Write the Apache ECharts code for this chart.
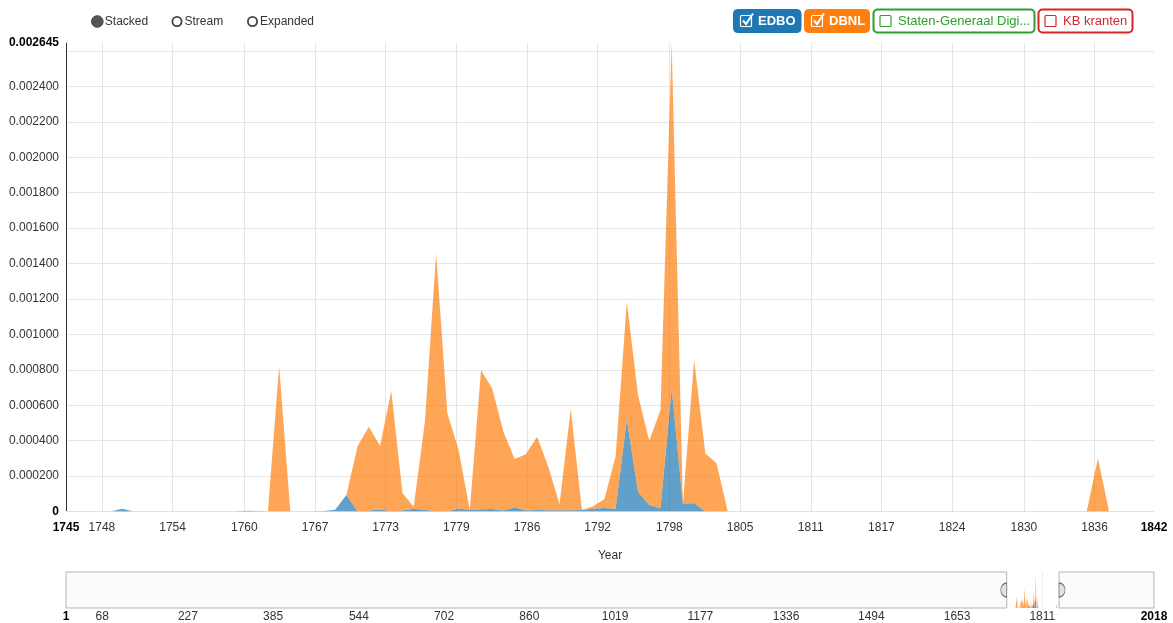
<!DOCTYPE html>
<html>
<head>
<meta charset="utf-8">
<title>EDBO / DBNL</title>
<script src="https://cdn.jsdelivr.net/npm/echarts@6/dist/echarts.min.js"></script>
<style>
  html, body { margin: 0; padding: 0; background: #fff; }
  #chart { width: 1173px; height: 623px; }
</style>
</head>
<body>
<div id="chart"></div>
<script>
const firstYear = 1745
const lastYear = 1842

// relative frequency per year, 1745 .. 1842 (ten years per row)
const edbo = [
  0, 0, 0, 0, 0, 0.000015, 0, 0, 0, 0,
  0, 0, 0, 0, 0, 0, 0.000004, 0.000003, 0, 0,
  0, 0, 0, 0.000003, 0.00001, 0.000093, 0, 0.000004, 0.000012, 0.000002,
  0.000006, 0.000015, 0.000008, 0.000003, 0, 0.000017, 0.000008, 0.000012, 0.000014, 0.000006,
  0.000022, 0.000006, 0.000008, 0.000007, 0.000007, 0.000007, 0.000008, 0.000015, 0.00002, 0.000015,
  0.00052, 0.000112, 0.000037, 0.000018, 0.000695, 0.000045, 0.000047, 0, 0, 0,
  0, 0, 0, 0, 0, 0, 0, 0, 0, 0,
  0, 0, 0, 0, 0, 0, 0, 0, 0, 0,
  0, 0, 0, 0, 0, 0, 0, 0, 0, 0,
  0, 0, 0, 0, 0, 0, 0, 0
]
const dbnl = [
  0, 0, 0, 0, 0, 0, 0, 0, 0, 0,
  0, 0, 0, 0, 0, 0, 0, 0, 0, 0.00082,
  0, 0, 0, 0, 0, 0, 0.00037, 0.000474, 0.000358, 0.00068,
  0.000097, 0.000012, 0.0005, 0.001455, 0.000554, 0.00033, 0, 0.000786, 0.00068, 0.000444,
  0.000274, 0.000317, 0.000414, 0.000246, 0.000035, 0.00057, 0, 0.000015, 0.00005, 0.000295,
  0.000664, 0.000545, 0.000363, 0.000555, 0.00195, 0, 0.000808, 0.000328, 0.000272, 0,
  0, 0, 0, 0, 0, 0, 0, 0, 0, 0,
  0, 0, 0, 0, 0, 0, 0, 0, 0, 0,
  0, 0, 0, 0, 0, 0, 0, 0, 0, 0,
  0, 0, 0.0003, 0, 0, 0, 0, 0
]

// x ticks of the focus chart sit between whole years, label shows the year
const yearTicks = [1748.2, 1754.5, 1760.9, 1767.2, 1773.5, 1779.8, 1786.1, 1792.4,
  1798.8, 1805.1, 1811.4, 1817.7, 1824.0, 1830.4, 1836.7]
const contextMin = 1
const contextMax = 2018
const contextTicks = [68, 227, 385, 544, 702, 860, 1019, 1177, 1336, 1494, 1653, 1811]
const yMax = 0.002645
const yStep = 0.0002

const font = "'Liberation Sans', Arial, sans-serif"
const years = edbo.map((v, i) => firstYear + i)

const chart = echarts.init(document.getElementById('chart'))

function radio(cx, label, checked) {
  return [
    {
      type: 'circle',
      shape: { cx: cx, cy: 21.5, r: checked ? 5.8 : 4.6 },
      style: { fill: checked ? '#555' : '#fff', stroke: '#444', lineWidth: checked ? 1 : 1.8 }
    },
    {
      type: 'text', x: cx + 7.5, y: 21.5,
      style: { text: label, fill: '#333', font: '12px ' + font, verticalAlign: 'middle', textVerticalAlign: 'middle' }
    }
  ]
}

function legendButton(x, w, color, label, checked) {
  const y = 9.5
  const h = 23
  const bx = x + 7
  const by = 15.5
  const els = [{
    type: 'rect',
    shape: { x: x, y: y, width: w, height: h, r: 4 },
    style: { fill: checked ? color : '#fff', stroke: color, lineWidth: checked ? 1 : 2 }
  }]
  if (checked) {
    els.push({
      type: 'rect', shape: { x: bx, y: by, width: 11, height: 11, r: 1 },
      style: { fill: 'none', stroke: '#fff', lineWidth: 1.2 }
    })
    els.push({
      type: 'polyline', shape: { points: [[bx + 2.5, by + 5], [bx + 5.5, by + 8.5], [bx + 12.5, by - 2]] },
      style: { fill: 'none', stroke: '#fff', lineWidth: 2 }
    })
  } else {
    els.push({
      type: 'rect', shape: { x: bx - 0.5, y: by, width: 11, height: 11, r: 1 },
      style: { fill: '#fff', stroke: color, lineWidth: 1.2 }
    })
  }
  els.push({
    type: 'text', x: x + 24.5, y: 21.5,
    style: {
      text: label, fill: checked ? '#fff' : color,
      font: (checked ? 'bold ' : '') + '13px ' + font,
      verticalAlign: 'middle', textVerticalAlign: 'middle'
    }
  })
  return els
}

const boldRich = { b: { fontWeight: 'bold', color: '#000', fontSize: 12, fontFamily: font } }

// stacking only behaves on a category axis, so every grid carries a hidden
// year category axis for the areas next to the visible value axis
const areaSeries = (name, data, color, xi, yi, stack) => ({
  name: name,
  type: 'line',
  xAxisIndex: xi,
  yAxisIndex: yi,
  stack: stack,
  data: data,
  symbol: 'none',
  lineStyle: { width: 0 },
  itemStyle: { color: color },
  areaStyle: { color: color, opacity: 0.7 },
  silent: true
})

// brush: shaded outside the selected years, handles on its edges
const brushSeries = {
  type: 'line',
  xAxisIndex: 2,
  yAxisIndex: 1,
  data: [],
  silent: true,
  markArea: {
    silent: true,
    itemStyle: { color: 'rgba(250,250,250,0.85)', borderColor: '#b5b5b5', borderWidth: 1 },
    data: [
      [{ xAxis: contextMin }, { xAxis: firstYear }],
      [{ xAxis: lastYear }, { xAxis: contextMax }]
    ]
  },
  markPoint: {
    silent: true,
    label: { show: false },
    itemStyle: { color: '#e2e2e2', borderColor: '#777', borderWidth: 1 },
    data: [
      { coord: [firstYear, yMax / 2], symbol: 'path://M10,0 A10,10 0 0 0 10,20 Z', symbolSize: [6, 14], symbolOffset: [-3, 0] },
      { coord: [lastYear, yMax / 2], symbol: 'path://M0,0 A10,10 0 0 1 0,20 Z', symbolSize: [6, 14], symbolOffset: [3, 0] }
    ]
  }
}

chart.setOption({
  animation: false,
  textStyle: { fontFamily: font },
  graphic: [].concat(
    radio(97.3, 'Stacked', true),
    radio(177, 'Stream', false),
    radio(252.5, 'Expanded', false),
    legendButton(733.5, 67.5, '#1f77b4', 'EDBO', true),
    legendButton(804.5, 65, '#ff7f0e', 'DBNL', true),
    legendButton(873.5, 161, '#2ca02c', 'Staten-Generaal Digi...', false),
    legendButton(1038.5, 94, '#d62728', 'KB kranten', false)
  ),
  grid: [
    { left: 66, right: 19, top: 43, bottom: 111.5 },
    { left: 66, right: 19, top: 572, height: 36 },
    { left: 1000, width: 50, top: 572, height: 36 }
  ],
  xAxis: [
    {
      type: 'value', gridIndex: 0, min: firstYear, max: lastYear,
      name: 'Year', nameLocation: 'middle', nameGap: 38,
      nameTextStyle: { color: '#333', fontSize: 12, fontFamily: font },
      axisLine: { show: true, lineStyle: { color: '#e2e2e2' } },
      axisTick: { show: false, customValues: yearTicks },
      splitLine: { show: true, lineStyle: { color: '#e5e5e5' } },
      axisLabel: {
        customValues: [firstYear].concat(yearTicks, [lastYear]),
        color: '#333', fontSize: 12, margin: 10, rich: boldRich,
        formatter: v => (v === firstYear || v === lastYear) ? '{b|' + v + '}' : String(Math.floor(v))
      }
    },
    { type: 'category', gridIndex: 0, data: years, boundaryGap: false, show: false },
    {
      type: 'value', gridIndex: 1, min: contextMin, max: contextMax,
      axisLine: { show: false },
      axisTick: { show: false, customValues: contextTicks },
      splitLine: { show: true, lineStyle: { color: '#eeeeee' } },
      axisLabel: {
        customValues: [contextMin].concat(contextTicks, [contextMax]),
        color: '#333', fontSize: 12, margin: 3, rich: boldRich,
        formatter: v => (v === contextMin || v === contextMax) ? '{b|' + v + '}' : String(v)
      }
    },
    { type: 'category', gridIndex: 2, data: years, boundaryGap: false, show: false }
  ],
  yAxis: [
    {
      type: 'value', gridIndex: 0, min: 0, max: yMax, interval: yStep,
      axisLine: { show: true, lineStyle: { color: '#333' } },
      axisTick: { show: false },
      splitLine: { show: true, showMaxLine: false, lineStyle: { color: '#e5e5e5' } },
      axisLabel: {
        color: '#333', fontSize: 12, margin: 7, rich: boldRich,
        showMinLabel: true, showMaxLabel: true,
        formatter: v => {
          if (v === 0) return '{b|0}'
          if (Math.abs(v - yMax) < 1e-9) return '{b|' + yMax.toFixed(6) + '}'
          if (v > yMax - yStep / 2) return ''
          return v.toFixed(6)
        }
      }
    },
    { type: 'value', gridIndex: 1, min: 0, max: yMax, show: false, splitLine: { show: false } },
    { type: 'value', gridIndex: 2, min: 0, max: yMax, show: false, splitLine: { show: false } }
  ],
  series: [
    areaSeries('EDBO', edbo, '#1f77b4', 1, 0, 'main'),
    areaSeries('DBNL', dbnl, '#ff7f0e', 1, 0, 'main'),
    brushSeries,
    areaSeries('EDBO', edbo, '#1f77b4', 3, 2, 'ctx'),
    areaSeries('DBNL', dbnl, '#ff7f0e', 3, 2, 'ctx')
  ]
})

// line the small context area up with its years on the context value axis
const ctxLeft = chart.convertToPixel({ xAxisIndex: 2 }, firstYear)
const ctxRight = chart.convertToPixel({ xAxisIndex: 2 }, lastYear)
chart.setOption({ grid: [{}, {}, { left: ctxLeft, width: ctxRight - ctxLeft }] })
</script>
</body>
</html>
